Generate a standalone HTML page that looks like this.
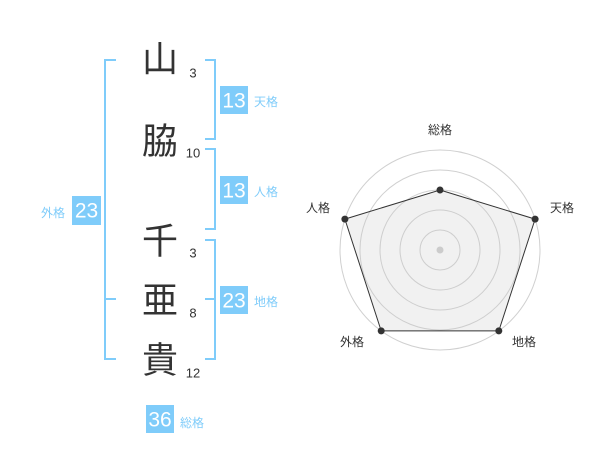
<!DOCTYPE html>
<html><head><meta charset="utf-8"><style>
html,body{margin:0;padding:0;background:#fff;}
svg{display:block;}
.k{font-family:"Liberation Sans","Noto Sans CJK JP",sans-serif;font-size:36px;fill:#333;}
.n{font-family:"Liberation Sans",sans-serif;font-size:13px;fill:#333;}
.b{font-family:"Liberation Sans",sans-serif;font-size:21px;fill:#fff;}
.l{font-family:"Liberation Sans","Noto Sans CJK JP",sans-serif;font-size:12px;fill:#7fccfa;}
.r{font-family:"Liberation Sans","Noto Sans CJK JP",sans-serif;font-size:12px;fill:#333;}
</style></head><body>
<svg width="600" height="470" viewBox="0 0 600 470" xmlns="http://www.w3.org/2000/svg">
<g fill="none" stroke="#7fccfa" stroke-width="2">
<polyline points="116,60 105,60 105,359 116,359"/>
<line x1="105" y1="299" x2="116" y2="299"/>
<polyline points="205,60 215,60 215,139 205,139"/>
<polyline points="205,149 215,149 215,229 205,229"/>
<polyline points="205,240 215,240 215,359 205,359"/>
<line x1="205" y1="299" x2="215" y2="299"/>
</g>
<g text-anchor="middle" dominant-baseline="central">
<text class="k" x="160" y="59">山</text>
<text class="k" x="160" y="141">脇</text>
<text class="k" x="160" y="241">千</text>
<text class="k" x="160" y="300">亜</text>
<text class="k" x="160" y="360">貴</text>
<text class="n" x="193" y="73">3</text>
<text class="n" x="193" y="153">10</text>
<text class="n" x="193" y="253">3</text>
<text class="n" x="193" y="313">8</text>
<text class="n" x="193" y="373">12</text>
</g>
<g fill="#7fccfa">
<rect x="220" y="86" width="28" height="28"/>
<rect x="220" y="176" width="28" height="28"/>
<rect x="220" y="286" width="28" height="28"/>
<rect x="72" y="196" width="29" height="29"/>
<rect x="146" y="405" width="28" height="28"/>
</g>
<g text-anchor="middle" dominant-baseline="central">
<text class="b" x="234" y="101">13</text>
<text class="b" x="234" y="191">13</text>
<text class="b" x="234" y="301">23</text>
<text class="b" x="86.5" y="211">23</text>
<text class="b" x="160" y="420">36</text>
</g>
<g dominant-baseline="central">
<text class="l" x="254" y="102">天格</text>
<text class="l" x="254" y="192">人格</text>
<text class="l" x="254" y="302">地格</text>
<text class="l" x="41" y="213">外格</text>
<text class="l" x="180" y="423">総格</text>
</g>
<g fill="none" stroke="#d0d0d0" stroke-width="1">
<circle cx="440" cy="250" r="100"/>
<circle cx="440" cy="250" r="80"/>
<circle cx="440" cy="250" r="60"/>
<circle cx="440" cy="250" r="40"/>
<circle cx="440" cy="250" r="20"/>
</g>
<polygon points="440,190 535.1,219.1 498.8,330.9 381.2,330.9 344.9,219.1" fill="rgba(200,200,200,0.25)" stroke="#333" stroke-width="1"/>
<circle cx="440" cy="250" r="3.5" fill="#ccc"/>
<g fill="#333">
<circle cx="440" cy="190" r="3.5"/>
<circle cx="535.1" cy="219.1" r="3.5"/>
<circle cx="498.8" cy="330.9" r="3.5"/>
<circle cx="381.2" cy="330.9" r="3.5"/>
<circle cx="344.9" cy="219.1" r="3.5"/>
</g>
<g text-anchor="middle" dominant-baseline="central">
<text class="r" x="440" y="130">総格</text>
<text class="r" x="562" y="208">天格</text>
<text class="r" x="318" y="208">人格</text>
<text class="r" x="524" y="342">地格</text>
<text class="r" x="352" y="342">外格</text>
</g>
</svg>
</body></html>
